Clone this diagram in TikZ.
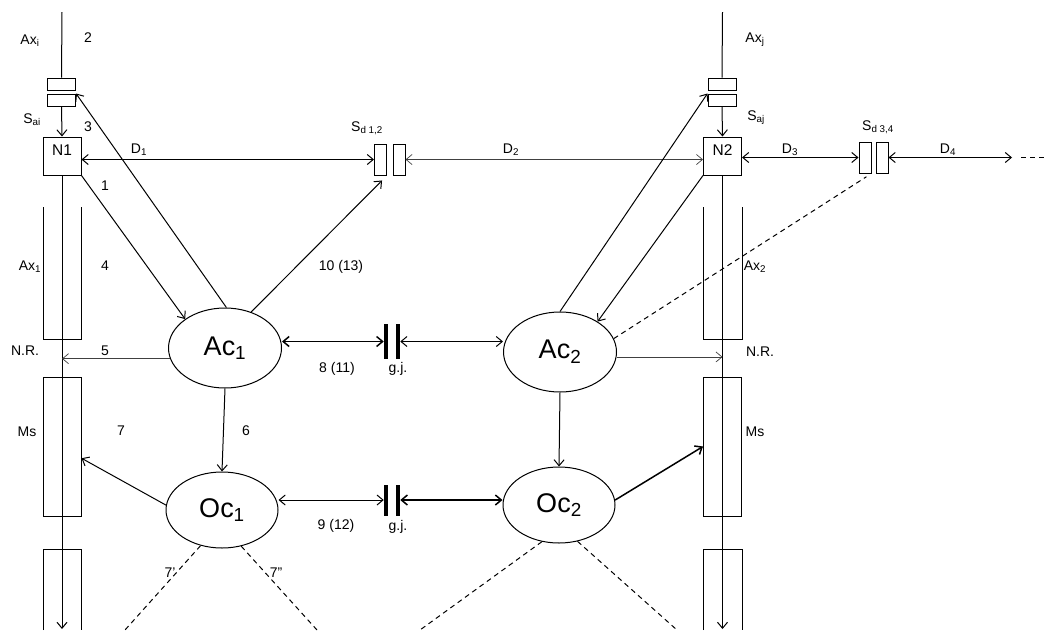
\documentclass[tikz,border=0pt]{standalone}
\usepackage{fontspec}
\setmainfont{Liberation Sans}
\usetikzlibrary{arrows.meta,shapes.geometric}

\begin{document}
\begin{tikzpicture}[x=1pt,y=-1pt,line width=1pt,
  lbl/.style={font=\fontsize{14}{16}\selectfont,inner sep=0pt},
  cell/.style={draw,ellipse,inner sep=0pt,minimum width=113pt,minimum height=80pt,
               font=\fontsize{27}{30}\selectfont},
  neur/.style={draw,minimum size=38pt,inner sep=0pt,text height=11pt,text depth=13pt,
               font=\fontsize{15.5}{17}\selectfont},
  syn/.style={draw,minimum width=28pt,minimum height=12pt,inner sep=0pt},
  sd/.style={draw,minimum width=12pt,minimum height=31pt,inner sep=0pt},
  bar/.style={fill=black,minimum width=3.5pt,inner sep=0pt},
  seg/.style={draw,minimum width=38pt,minimum height=139pt,inner sep=0pt},
  arr/.style={-{Straight Barb[length=6pt,width=10pt]}},
  darr/.style={{Straight Barb[length=6pt,width=10pt]}-{Straight Barb[length=6pt,width=10pt]}},
  thinl/.style={line width=0.7pt,black!75},
  thickl/.style={line width=1.5pt},
  dsh/.style={dash pattern=on 5pt off 4pt}]

\useasboundingbox (0,0) rectangle (1045,630);

% left neuron
\coordinate (top1) at (62,12);
\coordinate (bot1) at (62,629);
\node[syn] (sa1) at (61.5,84) {};
\node[syn] (sb1) at (61.5,100) {};
\node[neur] (n1) at (62,156) {N1};
\draw (43,207) -- (43,339) -- (81,339) -- (81,207);
\node[seg] (ms1) at (62,446.5) {};
\draw (43,630) -- (43,549) -- (81,549) -- (81,630);
\draw (top1) -- (sa1.north);
\draw[arr] (sb1.south) -- (n1.north);
\draw[arr] (n1.south) -- (bot1);

% right neuron
\coordinate (top2) at (722.5,12);
\coordinate (bot2) at (722.5,629);
\node[syn] (sa2) at (722,84) {};
\node[syn] (sb2) at (722,100) {};
\node[neur] (n2) at (722.5,156) {N2};
\draw (703,207) -- (703,339) -- (742,339) -- (742,207);
\node[seg] (ms2) at (722.5,446.5) {};
\draw (703,630) -- (703,549) -- (742,549) -- (742,630);
\draw (top2) -- (sa2.north);
\draw[arr] (sb2.south) -- (n2.north);
\draw[arr] (n2.south) -- (bot2);

% dendritic synapses
\node[sd] (sd1) at (380.5,159.5) {};
\node[sd] (sd2) at (399,159.5) {};
\node[sd] (sd3) at (865,157.5) {};
\node[sd] (sd4) at (882,157.5) {};
\coordinate (d4) at (1012,157.5);
\coordinate (d4a) at (1021,157.5);
\coordinate (d4b) at (1045,157.5);

% glia
\node[cell] (ac1) at (225,348) {Ac\textsubscript{1}};
\node[cell,minimum width=112pt,minimum height=76pt] (oc1) at (222,510) {Oc\textsubscript{1}};
\node[cell] (ac2) at (560,352) {Ac\textsubscript{2}};
\node[cell,minimum width=112pt,minimum height=76pt] (oc2) at (559,505) {Oc\textsubscript{2}};

\node[bar,minimum height=35pt] (gj1) at (386,341.5) {};
\node[bar,minimum height=35pt] (gj2) at (398,341.5) {};
\node[bar,minimum height=31pt] (gj3) at (386,500) {};
\node[bar,minimum height=31pt] (gj4) at (398,500) {};

\coordinate (e1) at (125,630);
\coordinate (e2) at (317,630);
\coordinate (e3) at (420,630);
\coordinate (e4) at (677,630);

\draw[darr] (n1.east |- sd1.west) -- (sd1.west);
\draw[darr,thinl] (sd2.east) -- (n2.west |- sd2.east);
\draw[darr] (n2.east |- sd3.west) -- (sd3.west);
\draw[darr] (sd4.east) -- (d4);
\draw[dsh] (d4a) -- (d4b);

\draw[arr] (n1.south east) -- (ac1.144);
\draw[arr] (ac1.88) -- (sb1.north east);
\draw[arr,shorten >=7pt] (ac1.54) -- (sd1.south east);
\draw[arr,thinl] (ac1.191) -- (ac1.191 -| n1.south);
\draw[arr] (ac1.south) -- (oc1.north);
\draw[arr] (oc1.175) -- (ms1.-31);
\draw[darr,thickl] (ac1.east |- gj1.west) -- (gj1.west);
\draw[darr] (gj2.east) -- (ac2.west |- gj2.east);
\draw[darr] (oc1.east |- gj3.west) -- (gj3.west);
\draw[darr,thickl] (gj4.east) -- (oc2.west |- gj4.east);
\draw[dsh] (oc1.-121) -- (e1);
\draw[dsh] (oc1.-62) -- (e2);

\draw[arr] (ac2.90) -- (sb2.north west);
\draw[arr] (n2.south west) -- (ac2.39);
\draw[dsh,shorten >=6pt] (ac2.14) -- (sd3.south east);
\draw[arr,thinl] (ac2.-5) -- (ac2.-5 -| n2.south);
\draw[arr] (ac2.south) -- (oc2.north);
\draw[arr,thickl] (oc2.5) -- (ms2.west);
\draw[dsh] (oc2.-115) -- (e3);
\draw[dsh] (oc2.-63) -- (e4);

% labels
\node[lbl] (axi) at (30,41) {Ax\textsubscript{i}};
\node[lbl] (l2) at (88,38) {2};
\node[lbl] (sai) at (32,120) {S\textsubscript{ai}};
\node[lbl] (l3) at (88,127) {3};
\node[lbl] (l1) at (105,186) {1};
\node[lbl] (dl1) at (139,150) {D\textsubscript{1}};
\node[lbl] (sdl1) at (367,128) {S\textsubscript{d 1,2}};
\node[lbl] (dl2) at (511,150) {D\textsubscript{2}};
\node[lbl] (ax1) at (30,267) {Ax\textsubscript{1}};
\node[lbl] (l4) at (105,266) {4};
\node[lbl] (l10) at (341,267) {10 (13)};
\node[lbl] (nr1) at (25,351) {N.R.};
\node[lbl] (l5) at (105,351) {5};
\node[lbl] (l8) at (337,369) {8 (11)};
\node[lbl] (gjl1) at (398,369) {g.j.};
\node[lbl] (msl1) at (27,432) {Ms};
\node[lbl] (l7) at (121,431) {7};
\node[lbl] (l6) at (246,431) {6};
\node[lbl] (l9) at (336,526) {9 (12)};
\node[lbl] (gjl2) at (398,527) {g.j.};
\node[lbl] (l7a) at (170,573) {7'};
\node[lbl] (l7b) at (276,573) {7''};

\node[lbl] (axj) at (755,40) {Ax\textsubscript{j}};
\node[lbl] (saj) at (756,118) {S\textsubscript{aj}};
\node[lbl] (sdl2) at (878,127) {S\textsubscript{d 3,4}};
\node[lbl] (dl3) at (790,150) {D\textsubscript{3}};
\node[lbl] (dl4) at (948,150) {D\textsubscript{4}};
\node[lbl] (ax2) at (755,267) {Ax\textsubscript{2}};
\node[lbl] (nr2) at (760,352) {N.R.};
\node[lbl] (msl2) at (755,432) {Ms};
\end{tikzpicture}
\end{document}
